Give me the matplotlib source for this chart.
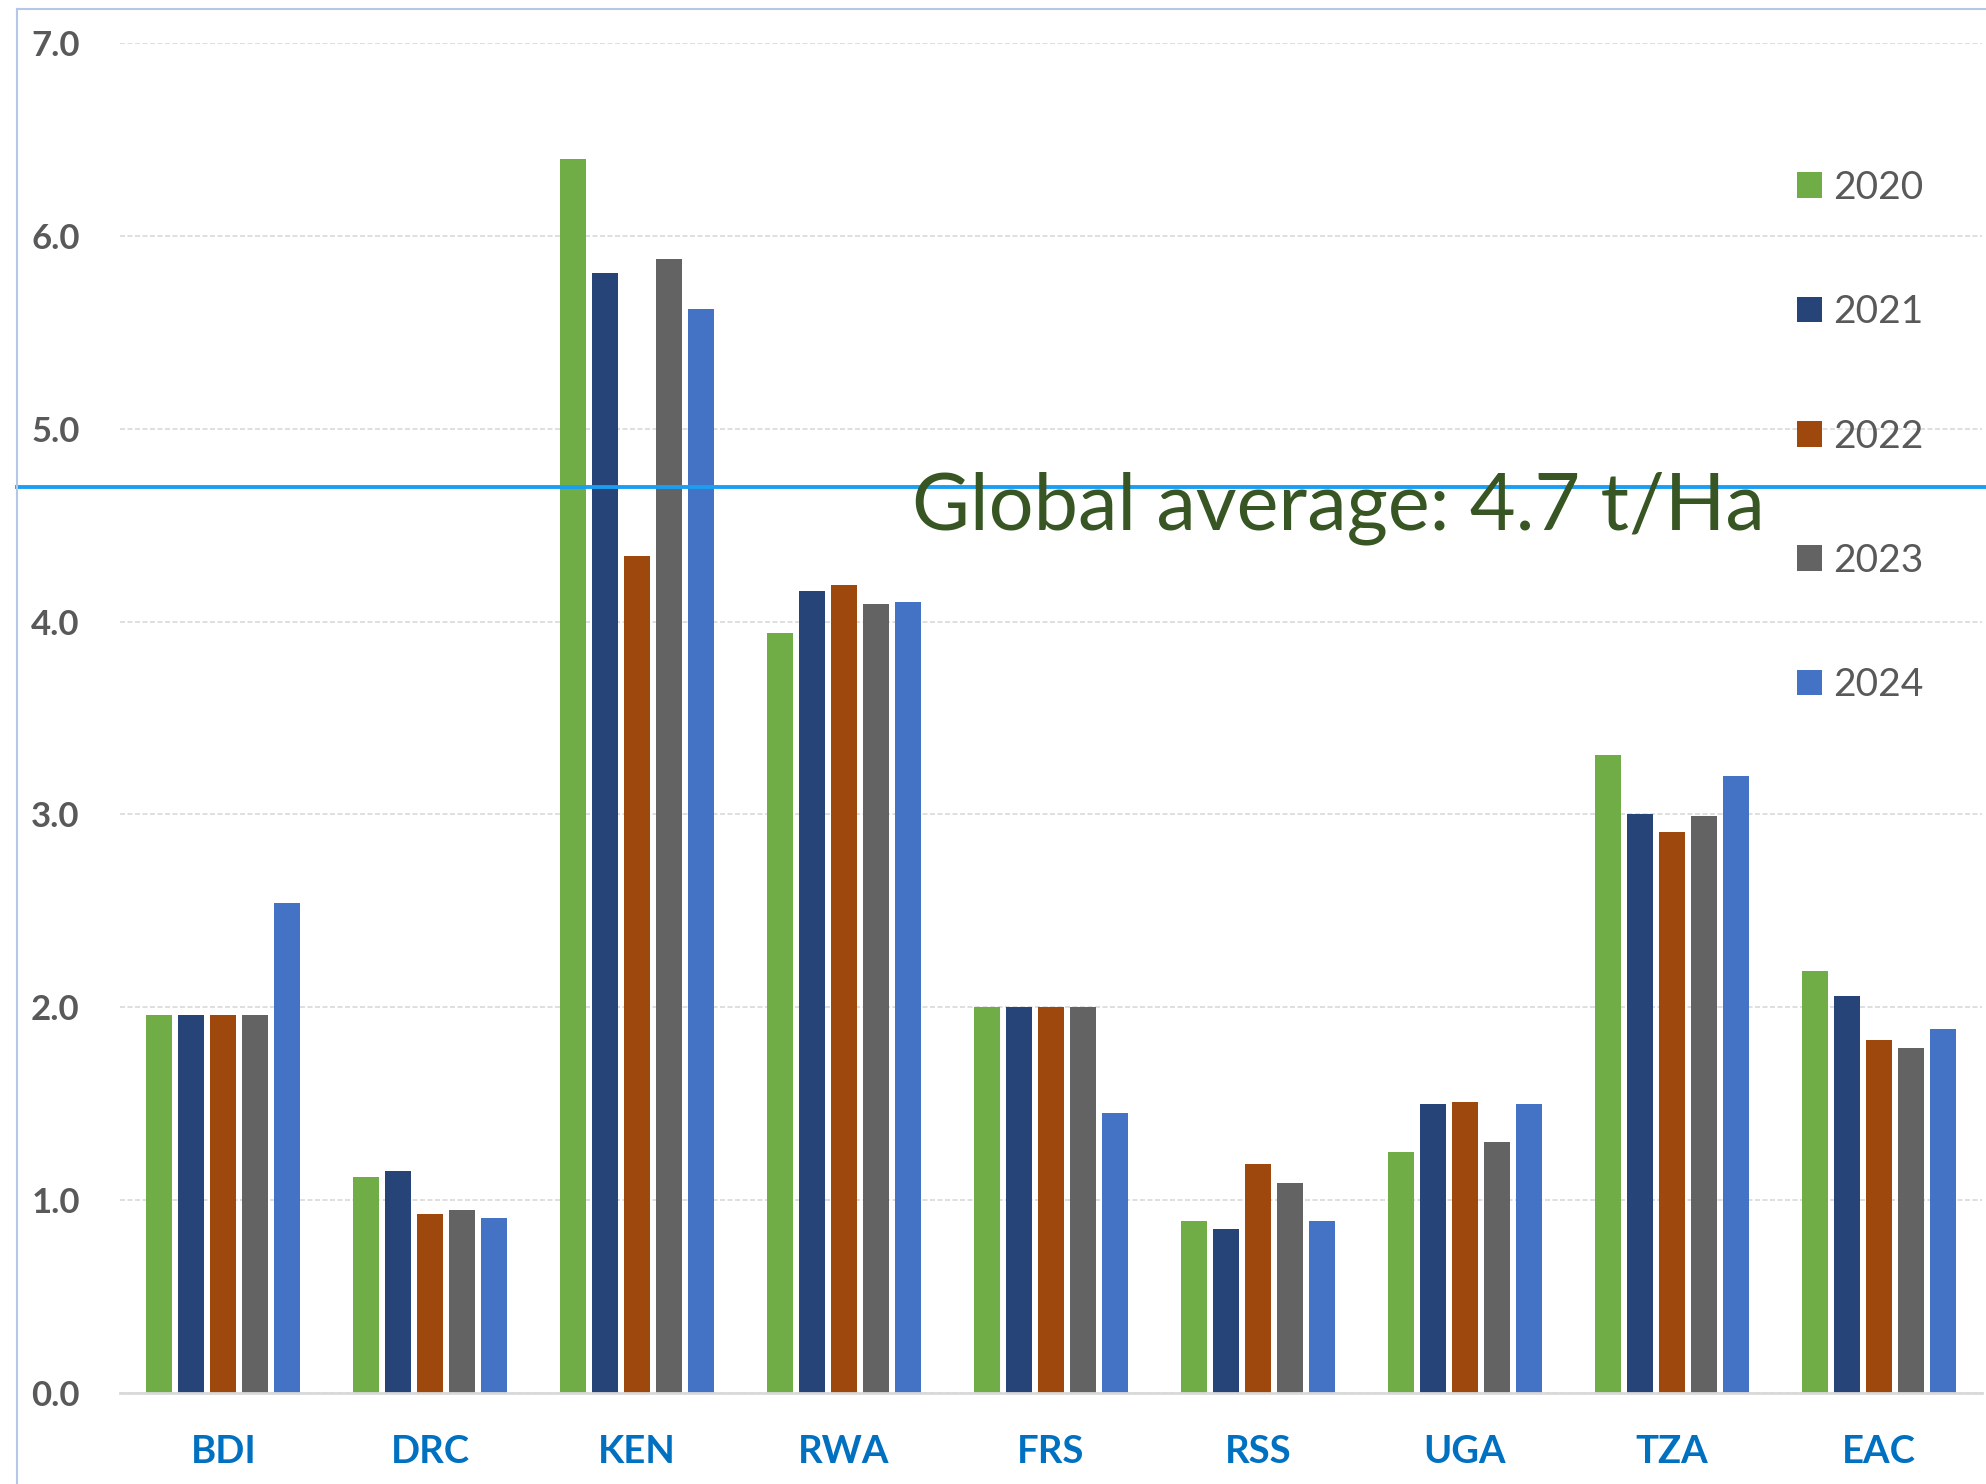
import matplotlib
matplotlib.use("Agg")
import matplotlib.pyplot as plt
from matplotlib.lines import Line2D
import numpy as np

categories = ["BDI", "DRC", "KEN", "RWA", "FRS", "RSS", "UGA", "TZA", "EAC"]
years = ["2020", "2021", "2022", "2023", "2024"]
y2020 = [1.96, 1.12, 6.40, 3.94, 2.00, 0.89, 1.25, 3.31, 2.19]
y2021 = [1.96, 1.15, 5.81, 4.16, 2.00, 0.85, 1.50, 3.00, 2.06]
y2022 = [1.96, 0.93, 4.34, 4.19, 2.00, 1.19, 1.51, 2.91, 1.83]
y2023 = [1.96, 0.95, 5.88, 4.09, 2.00, 1.09, 1.30, 2.99, 1.79]
y2024 = [2.54, 0.91, 5.62, 4.10, 1.45, 0.89, 1.50, 3.20, 1.89]
series = [y2020, y2021, y2022, y2023, y2024]
colors = ["#70AD47", "#264478", "#9E480E", "#636363", "#4472C4"]
global_avg = 4.7
yticks = [0.0, 1.0, 2.0, 3.0, 4.0, 5.0, 6.0, 7.0]

W, H = 1986, 1484
fig = plt.figure(figsize=(W / 100, H / 100), dpi=100)
ax = fig.add_axes([120 / W, 91 / H, (1982 - 120) / W, (1393 - 43) / H])

x = np.arange(len(categories))
pitch, width = 0.1547, 0.1257
handles = []
for i, (vals, c) in enumerate(zip(series, colors)):
    b = ax.bar(x + (i - 2) * pitch, vals, width=width, color=c, zorder=3, label=years[i])
    handles.append(b)

ax.set_xlim(-0.5, len(categories) - 0.5)
ax.set_ylim(0, 7)
ax.set_yticks(yticks)
ax.set_yticklabels([f"{v:.1f}" for v in yticks], fontfamily="Lato", fontweight="bold",
                   fontsize=25, color="#595959")
ax.set_xticks(x)
ax.set_xticklabels(categories, fontfamily="Lato", fontweight="bold", fontsize=27.5, color="#0070C0")
ax.tick_params(axis="both", length=0)
ax.tick_params(axis="y", pad=29)
ax.tick_params(axis="x", pad=30)
for s in ["top", "right", "left"]:
    ax.spines[s].set_visible(False)
ax.spines["bottom"].set_color("#D9D9D9")
ax.spines["bottom"].set_linewidth(2)
ax.spines["bottom"].set_zorder(4)
ax.yaxis.grid(True, color="#D9D9D9", linestyle=(0, (3, 1.5)), linewidth=1.2, zorder=0)
ax.set_axisbelow(True)

# global average line extending to left frame
x0 = (17 - 120) / (1982 - 120)
x1 = (W - 120) / (1982 - 120)
ax.axhline(global_avg, xmin=x0, xmax=x1, color="#1A9EF2", linewidth=2.8, zorder=5, clip_on=False)

t = ax.text(3.33, 4.48, f"Global average: {global_avg} t/Ha", fontfamily="Lato", fontsize=56,
            color="#375623", ha="left", va="baseline", zorder=6)
fig.canvas.draw()
bb = t.get_window_extent()
t.set_fontsize(56 * 852 / bb.width)

# frame lines (top and left)
fig.add_artist(Line2D([17 / W, 17 / W], [0, 1 - 9 / H], transform=fig.transFigure,
                      color="#B4C7E7", linewidth=1.5))
fig.add_artist(Line2D([17 / W, 1], [1 - 9 / H, 1 - 9 / H], transform=fig.transFigure,
                      color="#B4C7E7", linewidth=1.5))

leg = fig.legend(handles=handles, labels=years, loc="upper left",
                 bbox_to_anchor=(1797 / W, 1 - 170 / H), bbox_transform=fig.transFigure,
                 frameon=False, prop={"family": "Lato", "size": 28}, labelcolor="#595959",
                 handlelength=0.64, handleheight=0.64, handletextpad=0.3,
                 labelspacing=2.27, borderpad=0, borderaxespad=0)

fig.savefig("out.png", dpi=100, facecolor="white")
